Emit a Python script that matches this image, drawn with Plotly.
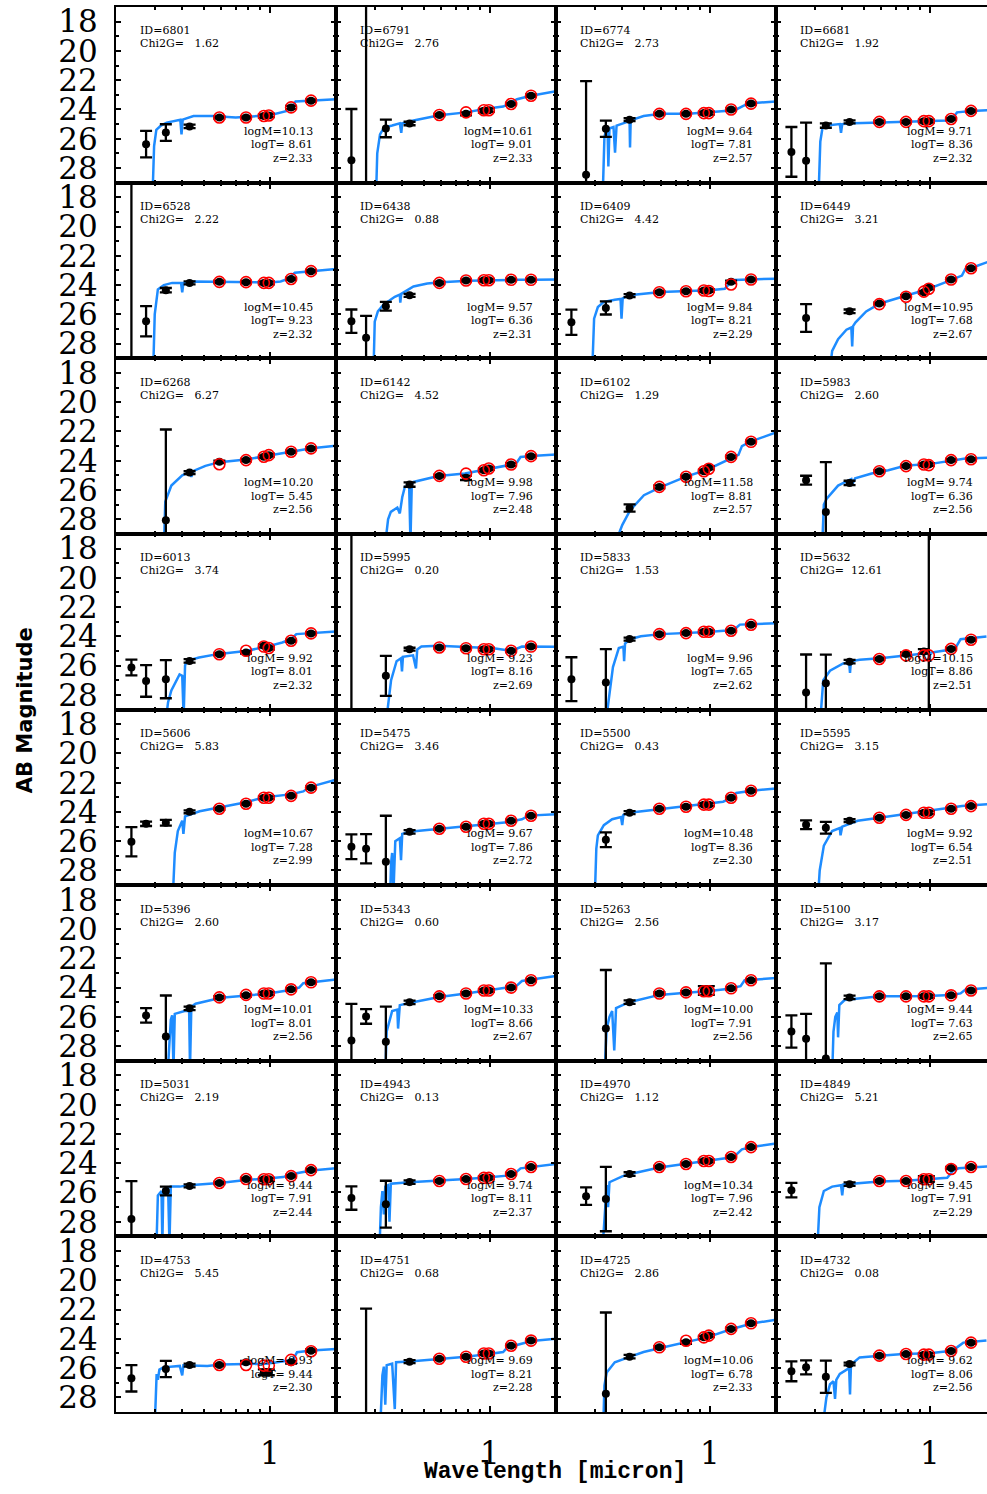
import math
import plotly.graph_objects as go
from plotly.subplots import make_subplots

# filter pivot wavelengths (micron): F225W F275W F336W F435W F606W F775W F850LP F105W F125W F160W
FILTER_WAVE = [0.235, 0.274, 0.337, 0.432, 0.59, 0.78, 0.94, 0.99, 1.25, 1.54]

IDS = [6801, 6791, 6774, 6681, 6528, 6438, 6409, 6449,
       6268, 6142, 6102, 5983, 6013, 5995, 5833, 5632,
       5606, 5475, 5500, 5595, 5396, 5343, 5263, 5100,
       5031, 4943, 4970, 4849, 4753, 4751, 4725, 4732]
CHI2 = [1.62, 2.76, 2.73, 1.92, 2.22, 0.88, 4.42, 3.21,
        6.27, 4.52, 1.29, 2.60, 3.74, 0.20, 1.53, 12.61,
        5.83, 3.46, 0.43, 3.15, 2.60, 0.60, 2.56, 3.17,
        2.19, 0.13, 1.12, 5.21, 5.45, 0.68, 2.86, 0.08]
LOGM = [10.13, 10.61, 9.64, 9.71, 10.45, 9.57, 9.84, 10.95,
        10.20, 9.98, 11.58, 9.74, 9.92, 9.23, 9.96, 10.15,
        10.67, 9.67, 10.48, 9.92, 10.01, 10.33, 10.00, 9.44,
        9.44, 9.74, 10.34, 9.45, 9.93, 9.69, 10.06, 9.62]
LOGT = [8.61, 9.01, 7.81, 8.36, 9.23, 6.36, 8.21, 7.68,
        5.45, 7.96, 8.81, 6.36, 8.01, 8.16, 7.65, 8.86,
        7.28, 7.86, 8.36, 6.54, 8.01, 8.66, 7.91, 7.63,
        7.91, 8.11, 7.96, 7.91, 9.44, 8.21, 6.78, 8.06]
ZPHOT = [2.33, 2.33, 2.57, 2.32, 2.32, 2.31, 2.29, 2.67,
         2.56, 2.48, 2.57, 2.56, 2.32, 2.69, 2.62, 2.51,
         2.99, 2.72, 2.30, 2.51, 2.56, 2.67, 2.56, 2.65,
         2.44, 2.37, 2.42, 2.29, 2.30, 2.28, 2.33, 2.56]

OBS_MAG = [
    [None, 26.37, 25.58, 25.16, 24.55, 24.55, 24.45, 24.41, 23.86, 23.40],
    [27.47, 35.0, 25.30, 24.96, 24.38, 24.30, 24.09, 24.05, 23.63, 23.06],
    [None, 28.47, 25.32, 24.70, 24.30, 24.30, 24.25, 24.25, 24.00, 23.60],
    [26.90, 27.50, 25.10, 24.85, 24.85, 24.85, 24.80, 24.80, 24.65, 24.10],
    [35.0, 26.47, 24.35, 23.85, 23.78, 23.80, 23.85, 23.85, 23.58, 23.05],
    [26.47, 27.60, 25.45, 24.70, 23.85, 23.69, 23.67, 23.67, 23.64, 23.64],
    [26.54, None, 25.56, 24.72, 24.49, 24.42, 24.37, 24.37, 23.78, 23.62],
    [None, 26.25, None, 25.79, 25.26, 24.76, 24.49, 24.19, 23.62, 22.85],
    [None, None, 28.07, 24.81, 24.08, 23.96, 23.73, 23.62, 23.39, 23.16],
    [None, None, None, 25.63, 25.04, 25.17, 24.65, 24.53, 24.26, 23.69],
    [None, None, None, 27.23, 25.79, 25.10, 24.72, 24.49, 23.74, 22.71],
    [None, 25.33, 27.50, 25.52, 24.72, 24.37, 24.26, 24.26, 23.96, 23.90],
    [26.13, 27.05, 26.93, 25.68, 25.22, 25.10, 24.65, 24.80, 24.30, 23.80],
    [35.0, None, 26.70, 24.88, 24.76, 24.81, 24.88, 24.88, 24.99, 24.70],
    [26.93, None, 27.16, 24.19, 23.85, 23.78, 23.69, 23.69, 23.62, 23.21],
    [None, 27.84, 27.20, 25.73, 25.55, 25.20, 25.03, 35.0, 24.86, 24.23],
    [26.04, 24.81, 24.74, 23.99, 23.78, 23.44, 23.03, 23.03, 22.90, 22.34],
    [26.38, 26.52, 27.41, 25.36, 25.15, 25.01, 24.81, 24.81, 24.60, 24.26],
    [None, None, 25.90, 24.05, 23.78, 23.64, 23.50, 23.50, 23.03, 22.55],
    [None, 24.88, 25.08, 24.60, 24.40, 24.20, 24.05, 24.05, 23.78, 23.60],
    [None, 25.90, 27.34, 25.42, 24.67, 24.53, 24.40, 24.40, 24.12, 23.64],
    [27.62, 25.97, 27.70, 25.01, 24.60, 24.40, 24.20, 24.20, 24.00, 23.50],
    [None, None, 26.80, 25.00, 24.40, 24.33, 24.20, 24.20, 24.05, 23.50],
    [27.00, 27.50, 28.85, 24.67, 24.60, 24.60, 24.60, 24.60, 24.53, 24.20],
    [27.82, None, 25.90, 25.55, 25.35, 25.08, 25.10, 25.10, 24.88, 24.47],
    [26.38, None, 26.80, 25.29, 25.22, 25.08, 25.00, 25.00, 24.74, 24.26],
    [None, 26.25, 26.45, 24.74, 24.26, 24.05, 23.85, 23.85, 23.58, 22.90],
    [25.84, None, None, 25.43, 25.22, 25.22, 25.08, 25.08, 24.33, 24.26],
    [26.70, None, 26.06, 25.79, 25.79, 25.60, 26.29, 26.29, 25.60, 24.81],
    [None, 32.0, None, 25.56, 25.36, 25.22, 25.00, 25.00, 24.47, 24.12],
    [None, None, 27.75, 25.22, 24.58, 24.24, 23.90, 23.78, 23.32, 22.94],
    [26.22, 25.95, 26.59, 25.72, 25.15, 25.04, 25.08, 25.08, 24.83, 24.26],
]

OBS_ERR = [
    [None, 0.91, 0.57, 0.12, 0.08, 0.08, 0.12, 0.12, 0.10, 0.08],
    [3.50, 30.0, 0.60, 0.12, 0.08, 0.10, 0.12, 0.12, 0.08, 0.08],
    [None, 6.40, 0.55, 0.10, 0.08, 0.08, 0.10, 0.10, 0.08, 0.08],
    [1.70, 2.60, 0.15, 0.10, 0.08, 0.08, 0.10, 0.10, 0.08, 0.08],
    [30.0, 1.03, 0.15, 0.10, 0.08, 0.08, 0.10, 0.10, 0.08, 0.08],
    [0.80, 1.50, 0.30, 0.10, 0.08, 0.08, 0.10, 0.10, 0.08, 0.08],
    [0.86, None, 0.45, 0.10, 0.08, 0.08, 0.10, 0.10, 0.08, 0.08],
    [None, 0.95, None, 0.12, 0.08, 0.08, 0.10, 0.10, 0.08, 0.08],
    [None, None, 6.20, 0.10, 0.08, 0.08, 0.10, 0.10, 0.08, 0.08],
    [None, None, None, 0.15, 0.08, 0.15, 0.10, 0.10, 0.10, 0.08],
    [None, None, None, 0.25, 0.10, 0.08, 0.10, 0.10, 0.08, 0.08],
    [None, 0.30, 3.40, 0.15, 0.08, 0.08, 0.10, 0.10, 0.08, 0.08],
    [0.54, 1.08, 1.30, 0.12, 0.08, 0.08, 0.10, 0.10, 0.08, 0.08],
    [30.0, None, 1.37, 0.10, 0.08, 0.08, 0.10, 0.10, 0.08, 0.08],
    [1.50, None, 2.28, 0.10, 0.08, 0.08, 0.10, 0.10, 0.08, 0.08],
    [None, 2.60, 1.95, 0.12, 0.08, 0.10, 0.15, 30.0, 0.08, 0.08],
    [1.00, 0.15, 0.20, 0.10, 0.08, 0.08, 0.10, 0.10, 0.08, 0.08],
    [0.85, 1.00, 3.15, 0.12, 0.08, 0.08, 0.10, 0.10, 0.08, 0.08],
    [None, None, 0.50, 0.10, 0.08, 0.08, 0.10, 0.10, 0.08, 0.08],
    [None, 0.30, 0.40, 0.10, 0.08, 0.08, 0.10, 0.10, 0.08, 0.08],
    [None, 0.50, 2.80, 0.12, 0.08, 0.08, 0.10, 0.10, 0.08, 0.08],
    [2.50, 0.50, 2.40, 0.12, 0.08, 0.08, 0.10, 0.10, 0.08, 0.08],
    [None, None, 4.00, 0.12, 0.08, 0.08, 0.30, 0.30, 0.08, 0.08],
    [1.10, 1.70, 6.50, 0.12, 0.08, 0.08, 0.10, 0.10, 0.08, 0.08],
    [2.60, None, 0.30, 0.10, 0.08, 0.08, 0.10, 0.10, 0.08, 0.08],
    [0.80, None, 1.60, 0.12, 0.08, 0.08, 0.10, 0.10, 0.08, 0.08],
    [None, 0.60, 2.20, 0.12, 0.08, 0.08, 0.10, 0.10, 0.08, 0.08],
    [0.50, None, None, 0.12, 0.08, 0.08, 0.20, 0.20, 0.08, 0.08],
    [0.90, None, 0.55, 0.10, 0.08, 0.10, 0.20, 0.20, 0.10, 0.08],
    [None, 10.07, None, 0.10, 0.08, 0.08, 0.10, 0.10, 0.08, 0.08],
    [None, None, 5.55, 0.12, 0.08, 0.10, 0.10, 0.10, 0.08, 0.08],
    [0.68, 0.48, 1.10, 0.10, 0.08, 0.08, 0.10, 0.10, 0.08, 0.08],
]

# model photometry, F606W .. F160W
MOD_MAG = [
    [24.55, 24.55, 24.45, 24.41, 23.86, 23.40],
    [24.38, 24.20, 24.05, 24.05, 23.63, 23.06],
    [24.30, 24.30, 24.25, 24.25, 24.00, 23.60],
    [24.85, 24.85, 24.80, 24.80, 24.65, 24.10],
    [23.78, 23.80, 23.85, 23.85, 23.58, 23.05],
    [23.85, 23.69, 23.67, 23.67, 23.64, 23.64],
    [24.49, 24.42, 24.37, 24.40, 23.96, 23.62],
    [25.30, 24.80, 24.45, 24.25, 23.62, 22.85],
    [24.24, 23.96, 23.73, 23.62, 23.39, 23.16],
    [25.04, 24.88, 24.65, 24.53, 24.26, 23.69],
    [25.79, 25.10, 24.72, 24.55, 23.74, 22.71],
    [24.72, 24.37, 24.26, 24.30, 23.96, 23.90],
    [25.22, 24.99, 24.70, 24.80, 24.30, 23.80],
    [24.76, 24.81, 24.88, 24.88, 24.99, 24.70],
    [23.85, 23.78, 23.69, 23.69, 23.62, 23.21],
    [25.55, 25.30, 25.30, 25.30, 24.86, 24.23],
    [23.78, 23.44, 23.03, 23.03, 22.90, 22.34],
    [25.15, 25.01, 24.81, 24.81, 24.60, 24.26],
    [23.78, 23.64, 23.50, 23.50, 23.03, 22.55],
    [24.40, 24.20, 24.05, 24.05, 23.78, 23.60],
    [24.67, 24.50, 24.40, 24.40, 24.12, 23.64],
    [24.60, 24.40, 24.20, 24.20, 24.00, 23.50],
    [24.40, 24.33, 24.25, 24.25, 24.05, 23.50],
    [24.60, 24.60, 24.60, 24.60, 24.53, 24.20],
    [25.35, 25.08, 25.10, 25.10, 24.88, 24.47],
    [25.22, 25.08, 25.00, 25.00, 24.74, 24.26],
    [24.26, 24.05, 23.85, 23.85, 23.58, 22.90],
    [25.22, 25.22, 25.10, 25.10, 24.40, 24.26],
    [25.79, 25.79, 25.83, 25.83, 25.44, 24.85],
    [25.36, 25.22, 25.00, 25.00, 24.47, 24.12],
    [24.58, 24.13, 23.90, 23.78, 23.32, 22.94],
    [25.15, 25.04, 25.08, 25.08, 24.83, 24.26],
]

# best-fit model spectra, sampled by eye
SPEC_WAVE = [
    [0.293, 0.298, 0.305, 0.32, 0.34, 0.38, 0.392, 0.397, 0.402, 0.45, 0.55, 0.7, 0.85, 1.0, 1.2, 1.26, 1.31, 1.55, 2.0],
    [0.304, 0.308, 0.317, 0.33, 0.36, 0.39, 0.396, 0.40, 0.45, 0.59, 0.78, 0.96, 1.15, 1.22, 1.33, 1.54, 2.0],
    [0.326, 0.332, 0.338, 0.343, 0.346, 0.35, 0.365, 0.371, 0.377, 0.42, 0.432, 0.434, 0.437, 0.5, 0.6, 0.8, 1.0, 1.3, 1.42, 1.5, 2.0],
    [0.312, 0.318, 0.325, 0.34, 0.39, 0.395, 0.4, 0.45, 0.6, 0.8, 1.0, 1.2, 1.27, 1.33, 1.55, 1.9],
    [0.295, 0.30, 0.31, 0.33, 0.36, 0.395, 0.40, 0.405, 0.45, 0.6, 0.8, 1.0, 1.12, 1.2, 1.3, 1.55, 2.0],
    [0.296, 0.30, 0.31, 0.33, 0.35, 0.37, 0.39, 0.392, 0.396, 0.45, 0.52, 0.6, 0.8, 1.0, 1.3, 1.6, 2.0],
    [0.292, 0.298, 0.31, 0.33, 0.37, 0.393, 0.397, 0.402, 0.43, 0.6, 0.8, 1.0, 1.17, 1.22, 1.29, 1.55, 2.0],
    [0.35, 0.36, 0.383, 0.418, 0.44, 0.444, 0.448, 0.46, 0.514, 0.594, 0.77, 0.97, 1.16, 1.34, 1.40, 1.45, 1.6, 1.85, 1.95],
    [0.33, 0.335, 0.357, 0.40, 0.43, 0.44, 0.45, 0.51, 0.59, 0.78, 0.96, 1.25, 1.55, 2.0],
    [0.333, 0.345, 0.355, 0.38, 0.39, 0.40, 0.411, 0.43, 0.436, 0.442, 0.45, 0.584, 0.77, 1.04, 1.27, 1.33, 1.38, 1.55, 2.0],
    [0.375, 0.40, 0.434, 0.502, 0.598, 0.775, 0.977, 1.25, 1.35, 1.40, 1.53, 2.0],
    [0.324, 0.33, 0.34, 0.383, 0.44, 0.445, 0.458, 0.544, 0.648, 0.771, 1.03, 1.3, 1.45, 1.9],
    [0.335, 0.345, 0.357, 0.389, 0.40, 0.406, 0.412, 0.421, 0.477, 0.587, 0.78, 0.96, 1.14, 1.25, 1.32, 1.54, 2.0],
    [0.337, 0.356, 0.377, 0.395, 0.399, 0.403, 0.448, 0.462, 0.468, 0.489, 0.584, 0.78, 1.04, 1.2, 1.3, 1.4, 2.0],
    [0.336, 0.363, 0.386, 0.405, 0.408, 0.412, 0.434, 0.486, 0.598, 0.775, 0.977, 1.2, 1.3, 1.37, 2.0],
    [0.317, 0.328, 0.352, 0.404, 0.43, 0.434, 0.438, 0.48, 0.594, 0.787, 0.97, 1.19, 1.32, 1.38, 1.81],
    [0.362, 0.37, 0.382, 0.40, 0.405, 0.412, 0.48, 0.594, 0.77, 0.95, 1.24, 1.42, 1.5, 1.6, 2.0],
    [0.352, 0.356, 0.36, 0.365, 0.372, 0.39, 0.395, 0.40, 0.43, 0.59, 0.78, 0.96, 1.2, 1.4, 1.5, 2.0],
    [0.30, 0.305, 0.31, 0.33, 0.36, 0.395, 0.40, 0.405, 0.43, 0.59, 0.78, 0.97, 1.15, 1.25, 1.32, 1.55, 2.0],
    [0.31, 0.316, 0.33, 0.36, 0.39, 0.393, 0.40, 0.47, 0.59, 0.78, 0.97, 1.25, 1.4, 1.9],
    [0.343, 0.355, 0.36, 0.365, 0.37, 0.41, 0.43, 0.434, 0.44, 0.46, 0.6, 0.78, 0.97, 1.2, 1.36, 1.42, 2.0],
    [0.335, 0.34, 0.36, 0.38, 0.383, 0.39, 0.43, 0.59, 0.78, 0.97, 1.2, 1.33, 1.4, 1.55, 2.0],
    [0.332, 0.34, 0.35, 0.36, 0.368, 0.375, 0.43, 0.59, 0.78, 0.97, 1.2, 1.38, 1.44, 2.0],
    [0.36, 0.365, 0.372, 0.38, 0.383, 0.388, 0.41, 0.59, 0.78, 0.97, 1.25, 1.38, 1.45, 1.9],
    [0.305, 0.31, 0.322, 0.325, 0.328, 0.345, 0.35, 0.355, 0.39, 0.43, 0.59, 0.78, 0.97, 1.15, 1.25, 1.55, 2.0],
    [0.315, 0.32, 0.325, 0.33, 0.335, 0.345, 0.35, 0.355, 0.43, 0.59, 0.78, 0.97, 1.2, 1.3, 1.38, 2.0],
    [0.325, 0.335, 0.34, 0.345, 0.35, 0.40, 0.43, 0.59, 0.78, 0.97, 1.2, 1.3, 1.4, 1.55, 2.0],
    [0.308, 0.315, 0.33, 0.36, 0.395, 0.40, 0.405, 0.59, 0.78, 0.97, 1.2, 1.27, 1.35, 1.9],
    [0.30, 0.306, 0.31, 0.315, 0.328, 0.39, 0.40, 0.405, 0.52, 0.6, 0.78, 0.97, 1.2, 1.28, 1.33, 1.55, 2.0],
    [0.318, 0.325, 0.33, 0.335, 0.34, 0.36, 0.37, 0.375, 0.43, 0.59, 0.78, 0.97, 1.15, 1.2, 1.3, 1.55, 2.0],
    [0.328, 0.332, 0.34, 0.37, 0.42, 0.5, 0.59, 0.78, 0.97, 1.25, 1.55, 2.0],
    [0.326, 0.339, 0.352, 0.365, 0.371, 0.376, 0.39, 0.43, 0.434, 0.438, 0.442, 0.48, 0.594, 0.758, 1.0, 1.23, 1.33, 1.42, 1.81],
]
SPEC_MAG = [
    [30, 26.5, 25.4, 25.1, 24.9, 24.75, 24.7, 25.7, 24.7, 24.45, 24.45, 24.55, 24.45, 24.4, 24.1, 23.85, 23.45, 23.38, 23.3],
    [30, 27, 25.7, 25.25, 25.1, 24.95, 25.6, 24.95, 24.75, 24.4, 24.2, 23.95, 23.8, 23.62, 23.3, 23.06, 22.75],
    [30, 25.9, 25.4, 25.3, 27.9, 25.3, 25.2, 26.95, 25.1, 24.85, 24.8, 26.6, 24.75, 24.45, 24.3, 24.3, 24.2, 24.05, 23.75, 23.6, 23.45],
    [30, 26.2, 25.3, 25.1, 25.0, 25.6, 25.0, 24.95, 24.9, 24.85, 24.8, 24.75, 24.6, 24.2, 24.1, 24.05],
    [30, 26, 24.3, 24.0, 23.85, 23.85, 24.5, 23.85, 23.75, 23.78, 23.8, 23.82, 23.75, 23.6, 23.15, 23.05, 22.9],
    [30, 26.5, 25.8, 25.3, 25.05, 24.8, 24.65, 25.2, 24.6, 24.1, 23.9, 23.8, 23.7, 23.66, 23.64, 23.63, 23.62],
    [30, 26.3, 25.5, 25.15, 25.0, 24.95, 26.3, 24.9, 24.7, 24.48, 24.4, 24.35, 24.25, 23.95, 23.65, 23.6, 23.56],
    [30, 28.5, 27.7, 27.05, 26.9, 28.2, 26.8, 26.55, 25.8, 25.26, 24.75, 24.3, 23.85, 23.5, 23.35, 22.9, 22.75, 22.4, 22.3],
    [30, 26.8, 25.7, 25.0, 24.8, 25.1, 24.7, 24.35, 24.1, 23.92, 23.68, 23.38, 23.15, 22.98],
    [30, 28.0, 27.5, 27.2, 27.6, 26.5, 25.8, 25.7, 29.5, 25.6, 25.45, 25.04, 24.88, 24.53, 24.25, 24.1, 23.75, 23.68, 23.58],
    [29.5, 28.4, 27.4, 26.36, 25.8, 25.1, 24.6, 23.8, 23.6, 23.0, 22.7, 22.07],
    [30, 27.0, 26.6, 25.7, 25.25, 25.6, 25.2, 24.88, 24.65, 24.35, 24.2, 23.95, 23.85, 23.78],
    [30, 28.5, 27.7, 26.6, 26.7, 29.5, 26.0, 25.68, 25.45, 25.2, 25.0, 24.72, 24.42, 24.2, 23.85, 23.8, 23.67],
    [30, 27.0, 25.7, 25.5, 26.4, 25.4, 25.3, 26.2, 24.9, 24.7, 24.65, 24.75, 24.82, 24.95, 24.9, 24.7, 24.72],
    [30, 26.1, 24.8, 24.7, 25.7, 24.5, 24.2, 24.0, 23.85, 23.78, 23.7, 23.6, 23.5, 23.2, 23.1],
    [30, 27.0, 26.35, 25.85, 25.8, 26.5, 25.7, 25.6, 25.5, 25.3, 25.15, 24.95, 24.7, 24.2, 24.02],
    [30, 26.8, 25.3, 24.6, 25.5, 24.3, 23.95, 23.7, 23.35, 23.0, 22.8, 22.6, 22.35, 22.2, 21.8],
    [30, 27.5, 26.8, 29.5, 26.0, 25.8, 27.3, 25.5, 25.35, 25.15, 25.0, 24.85, 24.7, 24.5, 24.25, 24.15],
    [30, 26.5, 25.6, 24.9, 24.5, 24.35, 24.9, 24.2, 24.05, 23.8, 23.62, 23.45, 23.3, 23.05, 22.7, 22.55, 22.4],
    [30, 28.0, 26.3, 25.3, 25.1, 25.6, 25.0, 24.6, 24.4, 24.15, 23.95, 23.75, 23.6, 23.45],
    [30, 26.2, 25.9, 29.5, 25.8, 25.6, 25.6, 29.5, 25.3, 25.1, 24.7, 24.55, 24.42, 24.2, 24.0, 23.7, 23.45],
    [30, 27.0, 25.6, 25.5, 26.8, 25.2, 25.05, 24.65, 24.4, 24.2, 24.0, 23.85, 23.55, 23.45, 23.2],
    [30, 26.8, 26.0, 25.6, 28.3, 25.4, 25.0, 24.5, 24.35, 24.25, 24.1, 23.9, 23.5, 23.35],
    [30, 27.0, 26.0, 25.7, 27.4, 25.2, 24.85, 24.6, 24.6, 24.58, 24.5, 24.4, 24.15, 24.0],
    [30, 26.2, 25.9, 29.5, 25.8, 25.7, 29.5, 25.6, 25.6, 25.5, 25.35, 25.15, 25.05, 24.95, 24.75, 24.5, 24.35],
    [30, 27.0, 25.9, 27.5, 25.6, 25.5, 28.0, 25.4, 25.3, 25.2, 25.08, 24.98, 24.85, 24.7, 24.35, 24.05],
    [30, 26.5, 25.5, 27.0, 25.3, 24.9, 24.75, 24.3, 24.05, 23.85, 23.65, 23.5, 23.05, 22.9, 22.65],
    [30, 27.0, 25.9, 25.6, 25.5, 26.2, 25.45, 25.25, 25.2, 25.1, 25.0, 24.55, 24.35, 24.2],
    [30, 26.4, 26.8, 26.1, 25.95, 25.85, 26.5, 25.8, 25.85, 25.75, 25.72, 25.7, 25.5, 25.38, 24.92, 24.8, 24.69],
    [30, 26.5, 25.9, 28.5, 25.8, 25.7, 28.8, 25.6, 25.55, 25.38, 25.22, 25.05, 24.9, 24.6, 24.45, 24.15, 24.0],
    [30, 27.2, 26.3, 25.6, 25.3, 24.9, 24.65, 24.25, 23.9, 23.35, 22.95, 22.7],
    [30, 28.0, 27.1, 26.9, 28.1, 26.8, 26.4, 26.0, 27.8, 25.9, 25.72, 25.27, 25.15, 25.04, 24.99, 24.83, 24.58, 24.26, 24.12],
]

MAG_TICKS = [18, 20, 22, 24, 26, 28]
WAVE_TICKS = [1]
WAVE_MINOR = [0.3, 0.4, 0.5, 0.6, 0.7, 0.8, 0.9, 2]

BLUE = '#1E8CFF'
SERIF = 'DejaVu Serif'
NROW, NCOL = 8, 4
COL_PX = [220, 220, 220, 211]   # last panel column is cut by the page edge
PANEL_H = 175.7

fig = make_subplots(rows=NROW, cols=NCOL, column_widths=COL_PX,
                    horizontal_spacing=0, vertical_spacing=0)

lo = math.log10(0.2)
annotations = []
for i in range(NROW * NCOL):
    r, c = i // NCOL + 1, i % NCOL + 1
    # model spectrum
    fig.add_trace(go.Scatter(
        x=SPEC_WAVE[i], y=SPEC_MAG[i], mode='lines',
        line=dict(color=BLUE, width=2.5), hoverinfo='skip'), row=r, col=c)
    # observed photometry
    ox, oy, oe = [], [], []
    for w, m, e in zip(FILTER_WAVE, OBS_MAG[i], OBS_ERR[i]):
        if m is not None:
            ox.append(w); oy.append(m); oe.append(e)
    fig.add_trace(go.Scatter(
        x=ox, y=oy, mode='markers',
        marker=dict(color='black', size=8),
        error_y=dict(type='data', array=oe, color='black', thickness=2.3, width=6)),
        row=r, col=c)
    # model photometry
    fig.add_trace(go.Scatter(
        x=FILTER_WAVE[4:], y=MOD_MAG[i], mode='markers',
        marker=dict(symbol='circle-open', color='red', size=11, line=dict(width=1.6))),
        row=r, col=c)

    n = i + 1
    xr = 'x domain' if n == 1 else f'x{n} domain'
    yr = 'y domain' if n == 1 else f'y{n} domain'
    w = COL_PX[c - 1]
    font = dict(family=SERIF, size=11, color='black')
    sp = '\u00a0'
    left_lines = [f'ID={IDS[i]}', f'Chi2G={CHI2[i]:7.2f}'.replace(' ', sp)]
    for k, t in enumerate(left_lines):
        annotations.append(dict(text=t, x=22 / w, y=1 - (24 + 13 * k) / PANEL_H,
                                xref=xr, yref=yr, xanchor='left', yanchor='middle',
                                showarrow=False, font=font))
    right_lines = [f'logM={LOGM[i]:5.2f}', f'logT={LOGT[i]:5.2f}', f'z={ZPHOT[i]:.2f}']
    for k, t in enumerate(right_lines):
        annotations.append(dict(text=t.replace(' ', sp), x=199 / w,
                                y=1 - (124.5 + 13.5 * k) / PANEL_H,
                                xref=xr, yref=yr, xanchor='right', yanchor='middle',
                                showarrow=False, font=font))

    xmax = lo + COL_PX[c - 1] / 220.0
    fig.update_xaxes(
        type='log', range=[lo, xmax], automargin=False,
        showline=True, linecolor='black', linewidth=2, mirror='ticks',
        ticks='inside', ticklen=6, tickwidth=2, tickcolor='black',
        tickmode='array', tickvals=WAVE_TICKS, ticktext=['1'],
        minor=dict(tickmode='array', tickvals=WAVE_MINOR, ticks='inside',
                   ticklen=3, tickwidth=1.5, tickcolor='black'),
        showticklabels=(r == NROW), ticklabelstandoff=13,
        tickfont=dict(family=SERIF, size=31, color='black'),
        showgrid=False, zeroline=False, row=r, col=c)
    fig.update_yaxes(
        range=[29, 17], automargin=False,
        showline=True, linecolor='black', linewidth=2,
        mirror='ticks' if c < NCOL else False,
        ticks='inside', ticklen=5, tickwidth=2, tickcolor='black',
        tickmode='array', tickvals=MAG_TICKS,
        minor=dict(dtick=1, ticks='inside', ticklen=3, tickwidth=1.5, tickcolor='black'),
        showticklabels=(c == 1), ticklabelstandoff=10,
        tickfont=dict(family=SERIF, size=31, color='black'),
        showgrid=False, zeroline=False, row=r, col=c)

annotations.append(dict(text='<b>Wavelength [micron]</b>', x=(555 - 116) / 871, y=-60 / 1405.5,
                        xref='paper', yref='paper', xanchor='center', yanchor='middle',
                        showarrow=False, font=dict(family='Liberation Mono', size=23, color='black')))
annotations.append(dict(text='<b>AB Magnitude</b>', x=(25 - 116) / 871, y=(1412 - 710) / 1405.5,
                        xref='paper', yref='paper', xanchor='center', yanchor='middle',
                        textangle=-90, showarrow=False,
                        font=dict(family='DejaVu Sans', size=21, color='black')))

fig.update_layout(
    width=987, height=1494,
    margin=dict(l=116, r=0, t=6.5, b=82, autoexpand=False),
    plot_bgcolor='white', paper_bgcolor='white',
    showlegend=False,
    annotations=annotations,
)

# the browser's default 8px body margin would push the figure off the page
fig.write_html("out.html", config={'displayModeBar': False},
               post_script="document.body.style.margin='0';")
